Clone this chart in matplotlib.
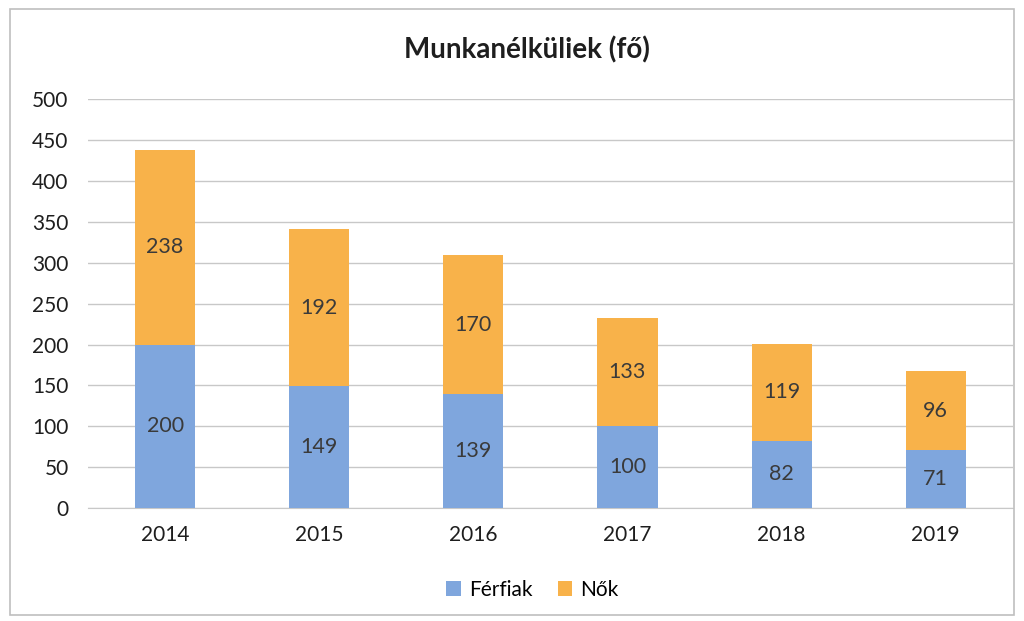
import matplotlib
matplotlib.use("Agg")
import matplotlib.pyplot as plt
import numpy as np
from matplotlib.patches import Rectangle

plt.rcParams['font.family'] = ['Lato', 'DejaVu Sans']

years = ['2014', '2015', '2016', '2017', '2018', '2019']
ferfiak = [200, 149, 139, 100, 82, 71]
nok = [238, 192, 170, 133, 119, 96]

blue = '#7fa6dd'
orange = '#f8b24a'

fig = plt.figure(figsize=(10.24, 6.21), dpi=100)
ax = fig.add_axes([0.086, 0.182, 0.903, 0.658])

x = np.arange(len(years))
w = 0.39
ax.bar(x, ferfiak, w, color=blue, label='Férfiak', zorder=3)
ax.bar(x, nok, w, bottom=ferfiak, color=orange, label='Nők', zorder=3)

for i in range(len(years)):
    ax.text(x[i], ferfiak[i] / 2, str(ferfiak[i]), ha='center', va='center',
            fontsize=15.5, color='#3a3a3a', zorder=4)
    ax.text(x[i], ferfiak[i] + nok[i] / 2, str(nok[i]), ha='center', va='center',
            fontsize=15.5, color='#3a3a3a', zorder=4)

ax.set_ylim(0, 500)
ax.set_xlim(-0.5, len(years) - 0.5)
ax.set_yticks(range(0, 501, 50))
ax.set_xticks(x)
ax.set_xticklabels(years)
ax.tick_params(axis='both', length=0, labelsize=15, colors='#1e1e1e')
ax.tick_params(axis='y', pad=14)
ax.tick_params(axis='x', pad=12)
ax.yaxis.grid(True, color='#c8c8c8', linewidth=1, zorder=0)
for s in ['top', 'right', 'left']:
    ax.spines[s].set_visible(False)
ax.spines['bottom'].set_color('#c8c8c8')

fig.text(0.515, 0.92, 'Munkanélküliek (fő)', ha='center', va='center',
         fontsize=20, fontweight='bold', color='#1e1e1e')

fig.legend(loc='center', bbox_to_anchor=(0.52, 0.05), ncol=2, frameon=False,
           fontsize=15, handlelength=0.7, handleheight=0.7, columnspacing=1.2,
           handletextpad=0.4)

fig.patches.append(Rectangle((0.01, 0.01), 0.98, 0.975, transform=fig.transFigure,
                             fill=False, edgecolor='#bfbfbf', linewidth=1.2))

fig.savefig('out.png', dpi=100)
